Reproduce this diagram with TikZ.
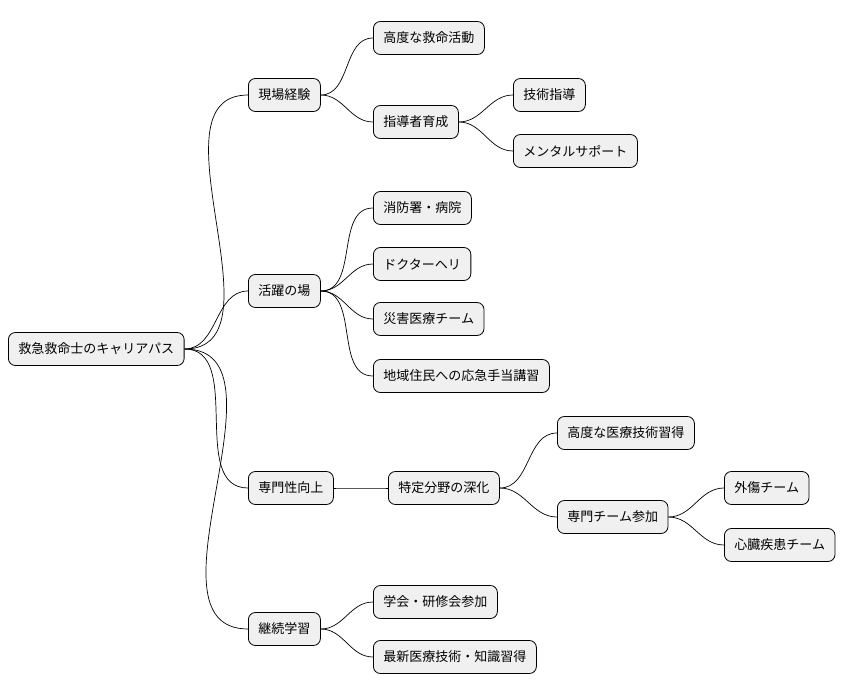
\documentclass[tikz,border=0pt]{standalone}
\usepackage{fontspec}
\newfontfamily\cjk{Noto Sans CJK JP}
\begin{document}
\begin{tikzpicture}[x=1pt,y=-1pt,
  box/.style={draw=black,line width=0.8pt,fill=black!6,rounded corners=7pt,anchor=west,
    minimum height=33pt,inner xsep=10pt,font=\cjk\fontsize{13}{15}\selectfont},
  link/.style={draw=black,line width=0.7pt}]
\useasboundingbox (0,0) rectangle (852,696);
\node[box] (r) at (8,349) {救急救命士のキャリアパス};
\node[box] (a) at (248,95) {現場経験};
\node[box] (a1) at (373,38) {高度な救命活動};
\node[box] (a2) at (373,122) {指導者育成};
\node[box] (a21) at (513,95) {技術指導};
\node[box] (a22) at (513,151) {メンタルサポート};
\node[box] (b) at (248,291) {活躍の場};
\node[box] (b1) at (373,208) {消防署・病院};
\node[box] (b2) at (373,264) {ドクターヘリ};
\node[box] (b3) at (373,319) {災害医療チーム};
\node[box] (b4) at (373,376) {地域住民への応急手当講習};
\node[box] (c) at (248,488) {専門性向上};
\node[box] (c1) at (388,488) {特定分野の深化};
\node[box] (c11) at (557,433) {高度な医療技術習得};
\node[box] (c12) at (557,517) {専門チーム参加};
\node[box] (c121) at (724,488) {外傷チーム};
\node[box] (c122) at (724,545) {心臓疾患チーム};
\node[box] (d) at (248,629) {継続学習};
\node[box] (d1) at (373,602) {学会・研修会参加};
\node[box] (d2) at (373,657) {最新医療技術・知識習得};
\foreach \p/\c in {r/a,r/b,r/c,r/d,a/a1,a/a2,a2/a21,a2/a22,b/b1,b/b2,b/b3,b/b4,c/c1,c1/c11,c1/c12,c12/c121,c12/c122,d/d1,d/d2}
  \draw[link] (\p.east) to[out=0,in=180] (\c.west);
\end{tikzpicture}
\end{document}
